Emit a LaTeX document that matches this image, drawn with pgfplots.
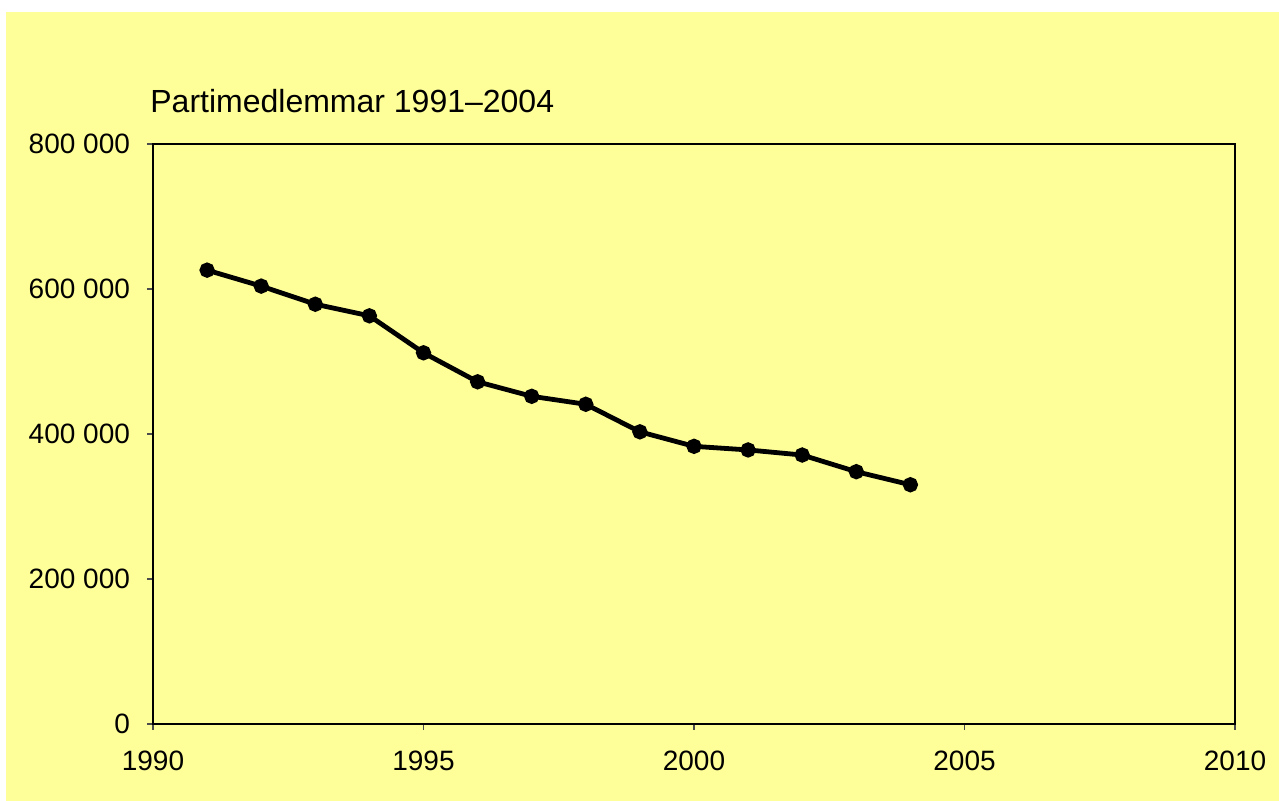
\documentclass[border=0pt]{standalone}
\usepackage{pgfplots}
\pgfplotsset{compat=1.18}
\usepackage{fontspec}
\setmainfont{Liberation Sans}
\definecolor{bgyellow}{HTML}{FFFF99}
\begin{document}
\begin{tikzpicture}
\fill[white] (0,0) rectangle (639.5pt,400.5pt);
\fill[bgyellow] (3pt,0) rectangle (639.5pt,394.5pt);
\node[anchor=base west, font=\fontsize{16}{19}\selectfont, inner sep=0pt] at (75pt,344pt) {Partimedlemmar 1991–2004};
\begin{axis}[
  at={(76.5pt,38.5pt)}, anchor=south west,
  scale only axis, width=541pt, height=290pt,
  xmin=1990, xmax=2010, ymin=0, ymax=800000,
  xtick={1990,1995,...,2010}, ytick={0,200000,...,800000},
  tick align=outside, tick pos=left,
  major tick length=3pt,
  tick style={gray!60!black, line width=0.6pt},
  axis line style={black, line width=0.8pt},
  scaled y ticks=false,
  ticklabel style={font=\fontsize{14}{16}\selectfont},
  /pgf/number format/assume math mode=true,
  yticklabel style={/pgf/number format/1000 sep={\ }, /pgf/number format/fixed, xshift=-5pt},
  xticklabel style={/pgf/number format/1000 sep={}, yshift=-7pt},
  axis background/.style={fill=bgyellow},
  clip=false,
]
\addplot[black, line width=2.4pt, mark=*, mark size=2.6pt, mark options={solid, fill=black, draw=none}] coordinates {
(1991,626000) (1992,604000) (1993,579000) (1994,563000) (1995,512000)
(1996,472000) (1997,452000) (1998,441000) (1999,403000) (2000,383000)
(2001,378000) (2002,371000) (2003,348000) (2004,330000)
};
\end{axis}
\end{tikzpicture}
\end{document}
